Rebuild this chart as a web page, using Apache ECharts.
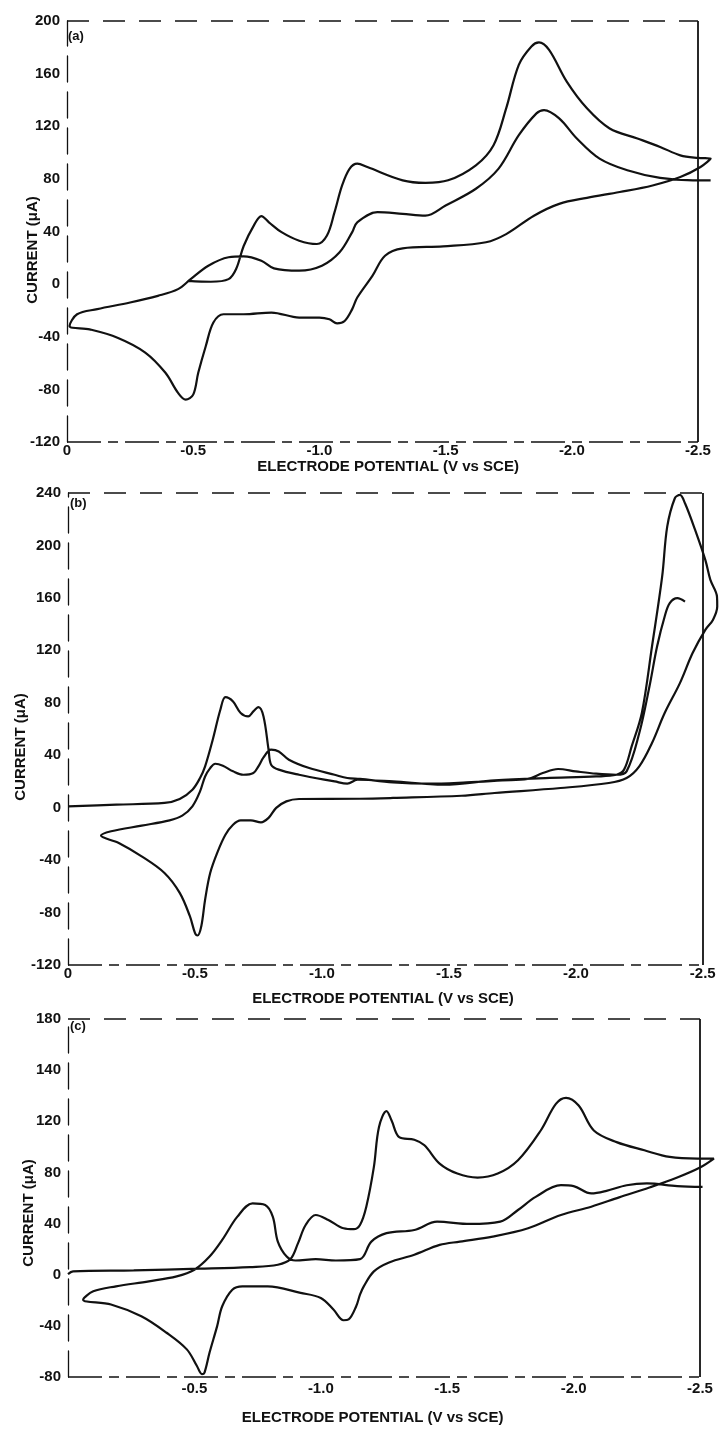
<!DOCTYPE html>
<html>
<head>
<meta charset="utf-8">
<script src="https://cdn.jsdelivr.net/npm/echarts@6/dist/echarts.min.js"></script>
<style>
html,body{margin:0;padding:0;background:#fff;}
#chart{width:721px;height:1429px;}
</style>
</head>
<body>
<div id="chart"></div>
<script>
// ---------- DATA (potential in V vs SCE, current in µA) ----------
// Panel (a): one continuous CV trace (scan 1 -> return -> scan 2)
const aPotential = [-0.48,-0.57,-0.64,-0.67,-0.70,-0.74,-0.77,-0.80,-0.85,-0.92,-0.99,-1.03,-1.06,-1.09,-1.12,-1.15,-1.19,-1.33,-1.42,-1.51,-1.62,-1.69,-1.74,-1.79,-1.84,-1.87,-1.91,-1.98,-2.06,-2.15,-2.26,-2.35,-2.43,-2.50,-2.55,
  -2.51,-2.43,-2.32,-2.19,-2.06,-1.95,-1.85,-1.74,-1.66,-1.49,-1.33,-1.26,-1.21,-1.15,-1.13,-1.10,-1.07,-1.04,-1.00,-0.92,-0.81,-0.70,-0.62,-0.58,-0.55,-0.52,-0.50,-0.47,-0.44,-0.39,-0.31,-0.20,-0.09,-0.01,
  -0.04,-0.12,-0.25,-0.36,-0.44,-0.49,-0.56,-0.64,-0.70,-0.77,-0.82,-0.92,-1.01,-1.08,-1.13,-1.15,-1.23,-1.33,-1.42,-1.50,-1.62,-1.71,-1.79,-1.86,-1.89,-1.95,-2.02,-2.11,-2.22,-2.35,-2.48,-2.55];
const aCurrent = [2.5,1.8,3.8,11.5,29,44.5,51.7,47,39.5,33,30.5,37,54.7,75,87.8,91.6,89,78.9,77,78.9,90.3,105.6,133.6,166.7,180.7,183.7,178,153.9,133.6,118.3,110.7,104.3,97.9,95.9,95.4,
  89,81.4,75,70,65.6,61,52,38,31.8,28.7,27.2,21.6,6.3,-10.2,-19,-28,-29.8,-26.7,-25.4,-25.4,-21.6,-22.9,-22.9,-29.2,-47,-67.4,-84,-87.8,-82.7,-67.4,-52,-40.7,-34.4,-31.8,
  -22.9,-19,-14,-8.9,-3.8,3.8,14,20.4,21.1,17.8,12,10.2,14,24.2,39.5,47,54.7,53.4,52.1,59.8,72.5,87.8,113.2,129.8,132.3,126,110.7,95.4,86.5,80.7,78.9,78.9];

// Panel (b)
const bPotential = [0.00,-0.19,-0.38,-0.44,-0.49,-0.52,-0.54,-0.57,-0.60,-0.62,-0.65,-0.68,-0.71,-0.73,-0.75,-0.77,-0.79,-0.80,-0.83,-0.91,-1.05,-1.10,-1.14,-1.28,-1.48,-1.68,-1.88,-2.08,-2.16,-2.19,-2.22,-2.26,-2.30,-2.34,-2.36,-2.39,-2.41,-2.43,-2.47,-2.51,-2.53,-2.556,-2.557,-2.54,
  -2.51,-2.46,-2.41,-2.35,-2.30,-2.25,-2.20,-2.13,-1.94,-1.68,-1.55,-1.28,-1.15,-0.91,-0.86,-0.82,-0.79,-0.76,-0.72,-0.68,-0.65,-0.62,-0.59,-0.56,-0.54,-0.525,-0.51,-0.50,-0.48,-0.44,-0.38,-0.29,-0.20,-0.13,
  -0.17,-0.29,-0.40,-0.45,-0.49,-0.52,-0.54,-0.56,-0.58,-0.61,-0.65,-0.69,-0.73,-0.75,-0.77,-0.80,-0.83,-0.87,-0.95,-1.05,-1.10,-1.15,-1.28,-1.42,-1.57,-1.71,-1.81,-1.87,-1.93,-2.00,-2.08,-2.16,-2.20,-2.25,-2.29,-2.32,-2.35,-2.37,-2.40,-2.43];
const bCurrent = [1,2.3,3.6,6.6,13.7,22.6,31.5,51.8,74.7,84.3,81,72.2,69.6,73.4,76.7,69.6,44.2,32.8,29,25.1,20,18.3,21.3,20,17.5,20.8,22.6,23.8,25.1,29,46.7,72.2,122.9,176.2,214.3,236,238.5,232.2,211.8,189,173.7,161,153.4,143.2,
  135.6,117.9,95,72.2,49.3,31.5,22.6,18.8,15,11.2,9.1,7.4,6.8,6.6,4.8,-0.2,-7.8,-11.2,-9.7,-9.7,-13,-20.6,-33.3,-49.8,-70.1,-90.4,-97.5,-95.5,-82.8,-65,-49.8,-37.1,-26.9,-21.3,
  -18,-13.7,-9.7,-6.1,1,12.4,23.8,30.2,33.5,32,27.7,25.1,26.4,31.5,38.3,44.2,42.9,36.6,30.2,25.1,22.6,21.9,19.3,18.3,19.3,20.8,21.9,26.4,29.5,27.7,25.9,25.1,27.7,56.9,92.4,122.9,145.8,156,159.8,157.2];

// Panel (c)
const cPotential = [0.00,-0.02,-0.26,-0.52,-0.72,-0.83,-0.88,-0.91,-0.94,-0.98,-1.03,-1.09,-1.13,-1.155,-1.18,-1.21,-1.23,-1.26,-1.28,-1.31,-1.37,-1.41,-1.47,-1.54,-1.62,-1.70,-1.78,-1.87,-1.93,-1.97,-2.02,-2.08,-2.17,-2.28,-2.38,-2.49,-2.555,
  -2.50,-2.41,-2.30,-2.18,-2.07,-1.95,-1.82,-1.68,-1.55,-1.47,-1.37,-1.27,-1.21,-1.17,-1.155,-1.14,-1.11,-1.09,-1.05,-1.00,-0.92,-0.79,-0.69,-0.65,-0.61,-0.59,-0.56,-0.54,-0.53,-0.51,-0.47,-0.39,-0.29,-0.17,-0.06,
  -0.10,-0.19,-0.32,-0.43,-0.50,-0.56,-0.61,-0.67,-0.73,-0.78,-0.81,-0.83,-0.865,-0.90,-0.98,-1.06,-1.155,-1.20,-1.26,-1.37,-1.46,-1.59,-1.71,-1.78,-1.85,-1.95,-2.00,-2.07,-2.13,-2.21,-2.29,-2.41,-2.51];
const cCurrent = [0.5,2.6,3.4,4.7,6,7.8,12.2,24.7,38.9,46.7,42.8,36.3,35.6,38.9,53.2,84.3,115.4,127.9,120.6,107.6,105.6,101.2,86.9,79.1,76,79.1,89.5,112.8,133.6,138.3,132.3,112.8,103.7,97.3,92.1,90.8,90.8,
  83.8,76,68.2,60.5,53.2,46.7,36.3,29.8,25.9,23.3,15.6,9.6,2.6,-9.1,-15.6,-24.7,-35,-35.6,-27.2,-18.2,-14.2,-9.1,-9.1,-11.7,-24.7,-40.2,-60.9,-76.5,-77.8,-71.4,-58.4,-45.4,-32.5,-23.3,-19.5,
  -13,-9.1,-5.2,-1.3,3.9,14.2,27.2,45.4,55.8,54.5,45.4,25.9,14.2,11.1,12.2,11.1,12.2,25.9,32.5,35,41.5,39.7,41.5,50.6,60.9,70,69.3,63.6,65.6,70,71.4,69.3,68.7];

// Tick labels as printed
const xTicksABC = [0, -0.5, -1.0, -1.5, -2.0, -2.5];
const xLabelsAB = ['0', '-0.5', '-1.0', '-1.5', '-2.0', '-2.5'];
const xLabelsC = ['', '-0.5', '-1.0', '-1.5', '-2.0', '-2.5'];
const yTicksC = [-80, -40, 0, 40, 80, 120, 160, 200];
const yLabelsC = ['-80', '-40', '0', '40', '80', '120', '140', '180'];
const panelTags = ['(a)', '(b)', '(c)'];
const xTitle = 'ELECTRODE POTENTIAL (V vs SCE)';
const yTitle = 'CURRENT (\u03bcA)';

// ---------- CHART ----------
function zip(xs, ys) { return xs.map((x, i) => [x, ys[i]]); }
function lookup(ticks, labels) {
  return v => { const i = ticks.findIndex(t => Math.abs(t - v) < 1e-6); return i >= 0 ? labels[i] : ''; };
}
const FONT = 'Liberation Sans';
const INK = '#111';
const X_END = -2.5;      // right frame of each panel
const X_MIN = -2.56;     // axis runs a little past the frame so traces can overshoot it
const X_STEP = 0.02;

// [left px, frame px] for each panel; grid extends past the frame to X_MIN
const frames = [[67, 698, 21, 421], [68, 703, 493, 472], [68, 700, 1019, 358]];
const grids = frames.map(f => {
  const ppv = (f[1] - f[0]) / 2.5;
  return { left: f[0], width: ppv * (-X_MIN), top: f[2], height: f[3] };
});
const yRanges = [[-120, 200], [-120, 240], [-80, 200]];
const xLabelFns = [lookup(xTicksABC, xLabelsAB), lookup(xTicksABC, xLabelsAB), lookup(xTicksABC, xLabelsC)];
const yLabelFns = [v => String(v), v => String(v), lookup(yTicksC, yLabelsC)];
const labelMargins = [1, 1, 4];
const nameGaps = [12, 26, 33];
const namePadRight = [4, 20, 38];
const datasets = [zip(aPotential, aCurrent), zip(bPotential, bCurrent), zip(cPotential, cCurrent)];

const xAxes = [], yAxes = [], series = [];
grids.forEach((g, i) => {
  const [y0, y1] = yRanges[i];
  xAxes.push({
    gridIndex: i, type: 'value', min: X_MIN, max: 0, interval: X_STEP, inverse: true, position: 'bottom',
    axisLine: { show: false, onZero: false },
    axisTick: { show: false }, splitLine: { show: false },
    axisLabel: { margin: labelMargins[i], color: INK, fontFamily: FONT, fontWeight: 'bold', fontSize: 15, formatter: xLabelFns[i] },
    name: xTitle, nameLocation: 'middle', nameGap: nameGaps[i],
    nameTextStyle: { color: INK, fontFamily: FONT, fontWeight: 'bold', fontSize: 15, padding: [0, namePadRight[i], 0, 0] }
  });
  yAxes.push({
    gridIndex: i, type: 'value', min: y0, max: y1, interval: 40, position: 'left',
    axisLine: { show: true, onZero: false, lineStyle: { color: INK, width: 1.3, type: [26, 10] } },
    axisTick: { show: false }, splitLine: { show: false },
    axisLabel: { margin: 7, color: INK, fontFamily: FONT, fontWeight: 'bold', fontSize: 15, formatter: yLabelFns[i] }
  });
  series.push({
    type: 'line', xAxisIndex: i, yAxisIndex: i, data: datasets[i],
    showSymbol: false, smooth: 0.35, clip: false, silent: true,
    lineStyle: { color: INK, width: 2.2 },
    markLine: {
      silent: true, symbol: 'none', animation: false,
      label: { show: false }, emphasis: { disabled: true },
      data: [
        [{ coord: [0, y0], lineStyle: { color: INK, width: 1.5, type: [34, 7, 10, 7] } }, { coord: [X_END, y0] }],
        [{ coord: [0, y1], lineStyle: { color: INK, width: 1.5, type: [22, 14] } }, { coord: [X_END, y1] }],
        [{ coord: [X_END, y0], lineStyle: { color: INK, width: 1.8, type: 'solid' } }, { coord: [X_END, y1] }]
      ]
    }
  });
});

const yNamePos = [[33, 250], [21, 747], [29, 1213]];
const tagPos = [[68, 30], [70, 497], [70, 1020]];
const graphic = [];
yNamePos.forEach(p => graphic.push({
  type: 'text', x: p[0], y: p[1], rotation: Math.PI / 2,
  style: { text: yTitle, fill: INK, font: 'bold 15px "' + FONT + '"', align: 'center', verticalAlign: 'middle', textAlign: 'center', textVerticalAlign: 'middle' }
}));
tagPos.forEach((p, i) => graphic.push({
  type: 'text', x: p[0], y: p[1],
  style: { text: panelTags[i], fill: INK, font: 'bold 13px "' + FONT + '"', align: 'left', verticalAlign: 'top', textAlign: 'left', textVerticalAlign: 'top' }
}));

const chart = echarts.init(document.getElementById('chart'), null, { renderer: 'canvas' });
chart.setOption({
  animation: false,
  backgroundColor: '#fff',
  grid: grids,
  xAxis: xAxes,
  yAxis: yAxes,
  series: series,
  graphic: graphic
});
</script>
</body>
</html>
